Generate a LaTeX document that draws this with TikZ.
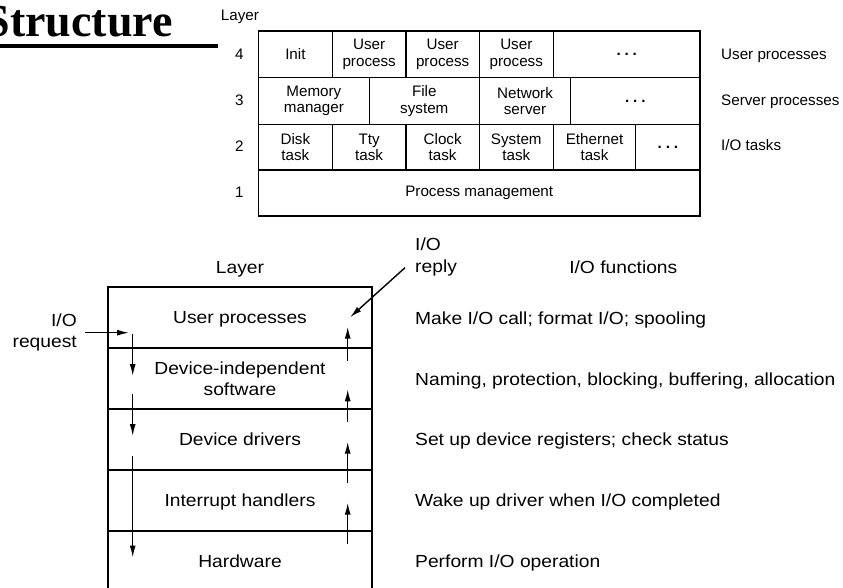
\documentclass[tikz,border=0pt]{standalone}
\usepackage{fontspec}
\setmainfont{Liberation Sans}
\newfontfamily\titlefont{Liberation Serif}
\newfontfamily\wfont[FakeStretch=1.1]{Liberation Sans}
\usetikzlibrary{arrows.meta}
\newcommand\mydots{\textbf{.}\hspace{3.8pt}\textbf{.}\hspace{3.8pt}\textbf{.}}
\begin{document}
\begin{tikzpicture}[x=1pt,y=-1pt,
  tcell/.style={draw, line width=1.3pt, rectangle, anchor=north west, inner sep=0pt, outer sep=0pt, align=center,
    font=\fontsize{15.2}{16.5}\selectfont},
  dotcell/.style={text height=3pt, text depth=0pt},
  tlab/.style={inner sep=0pt, anchor=base, font=\fontsize{15.2}{16.5}\selectfont},
  trlab/.style={inner sep=0pt, anchor=base west, font=\fontsize{15.2}{16.5}\selectfont},
  layerbox/.style={draw, line width=1.8pt, rectangle, minimum width=263.4, minimum height=60.85,
    inner sep=0pt, outer sep=0pt, align=center, font=\wfont\fontsize{17.5}{21}\selectfont},
  oneline/.style={text depth=0pt},
  wlab/.style={inner sep=0pt, font=\wfont\fontsize{17.5}{21.5}\selectfont},
  flow/.style={line width=1.4pt, -{Latex[length=12pt,width=6pt]}}
]
\useasboundingbox (0,0) rectangle (843,588);

% title
\node[anchor=base east, inner sep=0pt, font=\titlefont\bfseries\fontsize{46}{46}\selectfont] (title) at (173,37) {Structure};
\coordinate (barL) at (0,46);
\coordinate (barR) at (218,46);
\draw[line width=4pt] (barL) -- (barR);

% top table
\node[tlab] (tlayer) at (240,20.7) {Layer};
\node[tlab] (n4) at (239.3,59.3) {4};
\node[tlab] (n3) at (239.3,106) {3};
\node[tlab] (n2) at (239.3,151.7) {2};
\node[tlab] (n1) at (239.3,197.3) {1};

% row 4
\node[tcell, minimum width=73.8, minimum height=46.7] (init) at (258.5,31) {Init};
\node[tcell, minimum width=73.7, minimum height=46.7] (up1) at (332.3,31) {User\\process};
\node[tcell, minimum width=73.3, minimum height=46.7] (up2) at (406,31) {User\\process};
\node[tcell, minimum width=74, minimum height=46.7] (up3) at (479.3,31) {User\\process};
\node[tcell, dotcell, minimum width=146.7, minimum height=46.7] (dots4) at (553.3,31) {\mydots};
% row 3
\node[tcell, minimum width=110.8, minimum height=46.6] (mm) at (258.5,77.7) {Memory\\manager};
\node[tcell, minimum width=110, minimum height=46.6] (fs) at (369.3,77.7) {File\\system};
\node[tcell, minimum width=91.4, minimum height=46.6] (ns) at (479.3,77.7) {Network\\server};
\node[tcell, dotcell, minimum width=129.3, minimum height=46.6] (dots3) at (570.7,77.7) {\mydots};
% row 2
\node[tcell, minimum width=73.8, minimum height=45.7] (disk) at (258.5,124.3) {Disk\\task};
\node[tcell, minimum width=73.7, minimum height=45.7] (tty) at (332.3,124.3) {Tty\\task};
\node[tcell, minimum width=73.3, minimum height=45.7] (clock) at (406,124.3) {Clock\\task};
\node[tcell, minimum width=74, minimum height=45.7] (sys) at (479.3,124.3) {System\\task};
\node[tcell, minimum width=82.4, minimum height=45.7] (eth) at (553.3,124.3) {Ethernet\\task};
\node[tcell, dotcell, minimum width=64.3, minimum height=45.7] (dots2) at (635.7,124.3) {\mydots};
% row 1
\node[tcell, minimum width=441.5, minimum height=46] (pm) at (258.5,170) {Process management};

\node[trlab] (lup) at (721,59.3) {User processes};
\node[trlab] (lsp) at (721,106) {Server processes};
\node[trlab] (lio) at (721,151) {I/O tasks};

% bottom diagram
\node[wlab, anchor=base] (blayer) at (240,273.3) {Layer};
\node[wlab, anchor=base] (iofun) at (623.3,273.3) {I/O functions};

\node[layerbox, oneline] (uproc) at (240,317.7) {User processes};
\node[layerbox] (dis) at (240,378.55) {Device-independent\\software};
\node[layerbox, oneline] (ddrv) at (240,439.4) {Device drivers};
\node[layerbox, oneline] (ih) at (240,500.25) {Interrupt handlers};
\node[layerbox, oneline, draw=none] (hw) at (240,561.1) {Hardware};
\coordinate (hwbl) at (108.3,588);
\coordinate (hwbr) at (371.7,588);
\draw[line width=1.8pt] (hw.north west) -- (hwbl);
\draw[line width=1.8pt] (hw.north east) -- (hwbr);

\node[wlab, anchor=base west] (f1) at (415,324.3) {Make I/O call; format I/O; spooling};
\node[wlab, anchor=base west] (f2) at (415,385) {Naming, protection, blocking, buffering, allocation};
\node[wlab, anchor=base west] (f3) at (415,445.5) {Set up device registers; check status};
\node[wlab, anchor=base west] (f4) at (415,506.3) {Wake up driver when I/O completed};
\node[wlab, anchor=base west] (f5) at (415,567) {Perform I/O operation};

% request / reply
\node[wlab, anchor=east, align=right] (req) at (77,332.5) {I/O\\request};
\node[wlab, anchor=west, align=left] (rep) at (415,257) {I/O\\reply};

\coordinate (rq0) at (85,332.7);
\coordinate (rq1) at (129,332.7);
\draw[flow] (rq0) -- (rq1);

\coordinate (rp0) at (405,267.7);
\coordinate (rp1) at (350,317.3);
\draw[flow] (rp0) -- (rp1);

% down arrows
\coordinate (d1a) at (132.7,334);   \coordinate (d1b) at (132.7,376);
\coordinate (d2a) at (132.7,394);   \coordinate (d2b) at (132.7,436);
\coordinate (d3a) at (132.7,456);   \coordinate (d3b) at (132.7,557.5);
\draw[flow] (d1a) -- (d1b);
\draw[flow] (d2a) -- (d2b);
\draw[flow] (d3a) -- (d3b);

% up arrows
\coordinate (u1a) at (347.7,360.7); \coordinate (u1b) at (347.7,326.7);
\coordinate (u2a) at (347.7,422);   \coordinate (u2b) at (347.7,389.3);
\coordinate (u3a) at (347.7,482.7); \coordinate (u3b) at (347.7,441.7);
\coordinate (u4a) at (347.7,544);   \coordinate (u4b) at (347.7,502.7);
\draw[flow] (u1a) -- (u1b);
\draw[flow] (u2a) -- (u2b);
\draw[flow] (u3a) -- (u3b);
\draw[flow] (u4a) -- (u4b);
\end{tikzpicture}
\end{document}
